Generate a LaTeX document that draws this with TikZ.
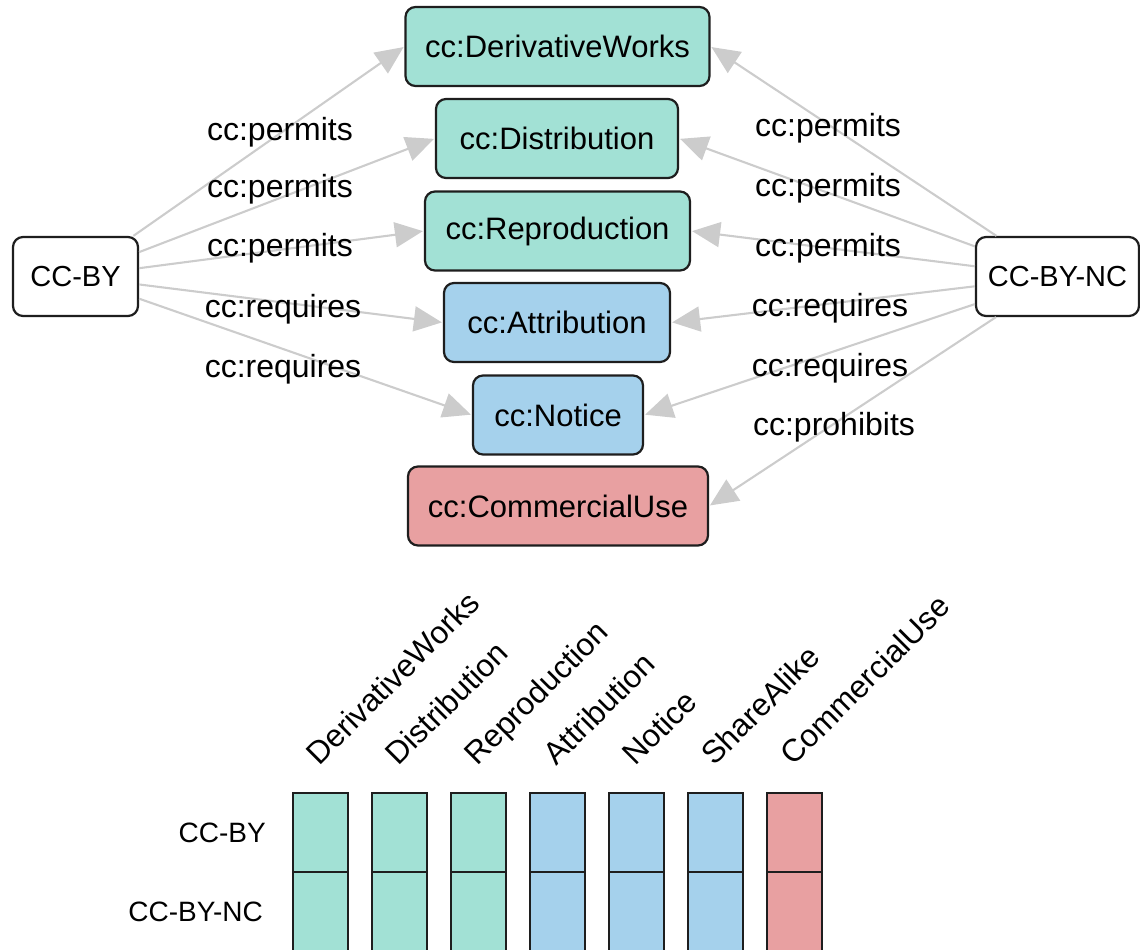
\documentclass[tikz,border=0pt]{standalone}
\usepackage{fontspec}
\setmainfont{Liberation Sans}
\usetikzlibrary{arrows.meta}
\definecolor{cteal}{RGB}{162,225,213}
\definecolor{cblue}{RGB}{165,209,236}
\definecolor{cred}{RGB}{232,160,161}
\definecolor{cedge}{RGB}{204,204,204}
\definecolor{cborder}{RGB}{30,30,30}
\begin{document}
\begin{tikzpicture}[x=1pt,y=-1pt,
  box/.style={draw=cborder, line width=2.2pt, rounded corners=10pt, minimum height=79pt, inner sep=0pt, font=\fontsize{31}{37}\selectfont},
  lic/.style={box, fill=white, font=\fontsize{29}{35}\selectfont},
  perm/.style={box, fill=cteal},
  req/.style={box, fill=cblue},
  proh/.style={box, fill=cred},
  edge/.style={draw=cedge, line width=2.1pt, -{Triangle[length=28pt,width=25pt]}, shorten >=1pt},
  elabel/.style={inner sep=0pt, font=\fontsize{32}{38}\selectfont},
  cell/.style={draw=cborder, line width=2.5pt, minimum width=55pt, minimum height=79pt, inner sep=0pt},
  collabel/.style={rotate=45, anchor=base west, inner sep=0pt, font=\fontsize{31.5}{38}\selectfont},
  rowlabel/.style={anchor=east, inner sep=0pt, font=\fontsize{28}{34}\selectfont}]
\useasboundingbox (0,0) rectangle (1140,950);
\clip (0,0) rectangle (1140,950);

% license nodes
\node[lic, minimum width=125pt] (ccby) at (75.5,276.5) {CC-BY};
\node[lic, minimum width=163pt] (ccbync) at (1057.5,276.5) {CC-BY-NC};

% term nodes
\node[perm, minimum width=304pt] (dw) at (557.5,46.5) {cc:DerivativeWorks};
\node[perm, minimum width=242pt] (dist) at (557,138.5) {cc:Distribution};
\node[perm, minimum width=265pt] (repr) at (557.5,231) {cc:Reproduction};
\node[req, minimum width=226pt] (attr) at (557,322.5) {cc:Attribution};
\node[req, minimum width=170pt] (notice) at (558,415) {cc:Notice};
\node[proh, minimum width=300pt] (comm) at (558,506) {cc:CommercialUse};

% edges from CC-BY
\draw[edge] (ccby) -- (dw.west);
\draw[edge] (ccby) -- (dist.west);
\draw[edge] (ccby) -- (repr.west);
\draw[edge] (ccby) -- (attr.west);
\draw[edge] (ccby) -- (notice.west);

% edges from CC-BY-NC
\draw[edge] (ccbync) -- (dw.east);
\draw[edge] (ccbync) -- (dist.east);
\draw[edge] (ccbync) -- (repr.east);
\draw[edge] (ccbync) -- (attr.east);
\draw[edge] (ccbync) -- (notice.east);
\draw[edge] (ccbync) -- (comm.east);

% edge labels
\node[elabel] (l1) at (280,132) {cc:permits};
\node[elabel] (l2) at (280,189) {cc:permits};
\node[elabel] (l3) at (280,248) {cc:permits};
\node[elabel] (l4) at (283,309) {cc:requires};
\node[elabel] (l5) at (283,369) {cc:requires};
\node[elabel] (r1) at (828,128) {cc:permits};
\node[elabel] (r2) at (828,188) {cc:permits};
\node[elabel] (r3) at (828,248) {cc:permits};
\node[elabel] (r4) at (830,308) {cc:requires};
\node[elabel] (r5) at (830,368) {cc:requires};
\node[elabel] (r6) at (834,427) {cc:prohibits};

% matrix
\foreach \i/\name/\col in {0/DerivativeWorks/cteal, 1/Distribution/cteal, 2/Reproduction/cteal,
                           3/Attribution/cblue, 4/Notice/cblue, 5/ShareAlike/cblue, 6/CommercialUse/cred} {
  \pgfmathsetmacro{\cx}{320.5+79*\i}
  \node[cell, fill=\col] (by\i) at (\cx,832.5) {};
  \node[cell, fill=\col, minimum height=82pt] (nc\i) at (\cx,913) {};
  \node[collabel] (h\i) at (\cx-1,767) {\name};
}
\node[rowlabel] (rby) at (266,833) {CC-BY};
\node[rowlabel] (rnc) at (263,912) {CC-BY-NC};
\end{tikzpicture}
\end{document}
